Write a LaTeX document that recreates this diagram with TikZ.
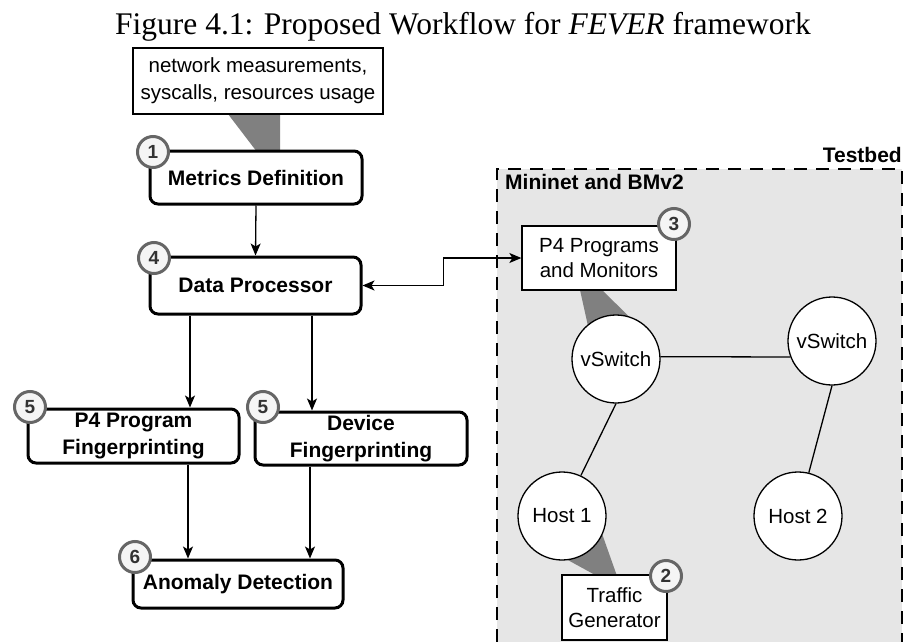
\documentclass[tikz,border=0pt]{standalone}
\usepackage{fontspec}
\setmainfont{Liberation Sans}
\newfontfamily\titlefont{Liberation Serif}
\usetikzlibrary{arrows.meta,calc}
\definecolor{wedge}{HTML}{808080}
\definecolor{badgeline}{HTML}{666666}
\definecolor{badgefill}{HTML}{F5F5F5}
\definecolor{badgetext}{HTML}{333333}
\definecolor{bedfill}{HTML}{E6E6E6}
\tikzset{
  stepbox/.style={draw=black, line width=3pt, rounded corners=8pt, fill=white, align=center,
    inner sep=0pt, font=\fontsize{21}{27}\selectfont\bfseries},
  plainbox/.style={draw=black, line width=1.3pt, fill=white, align=center, inner sep=0pt,
    font=\fontsize{20.5}{25}\selectfont},
  netnode/.style={draw=black, line width=1.3pt, fill=white, circle, inner sep=0pt,
    minimum size=88pt, font=\fontsize{20.5}{25}\selectfont},
  badge/.style={draw=badgeline, line width=3pt, fill=badgefill, circle, inner sep=0pt,
    minimum size=31pt, text=badgetext, font=\fontsize{19}{20}\selectfont\bfseries},
  flow/.style={line width=1.3pt, -{Stealth[length=12pt,width=10pt,inset=3pt]}},
  link/.style={line width=1.3pt},
  callout/.style={fill=wedge, draw=none},
}
\begin{document}
\begin{tikzpicture}[x=1pt,y=-1pt]
\useasboundingbox (0,0) rectangle (905,642);
% title
\node[font=\titlefont\fontsize{31.5}{34}\selectfont, anchor=base, inner sep=0pt] (title) at (463,35)
  {Figure 4.1: Proposed Workflow for \textit{FEVER} framework};
% testbed container
\fill[bedfill] (497,169) rectangle (902,642);
\draw[line width=1.5pt, dash pattern=on 13pt off 9pt] (497,642) -- (497,169) -- (902,169) -- (902,642);
\node[anchor=south east, inner sep=0pt, font=\fontsize{21}{24}\selectfont\bfseries] (tblabel) at (902,163) {Testbed};
\node[anchor=north west, inner sep=0pt, font=\fontsize{21}{24}\selectfont\bfseries] (mnlabel) at (505,174) {Mininet and BMv2};
% callout wedges
\fill[callout] (228,114) -- (280,114) -- (280,152) -- (257,152) -- cycle;
\fill[callout] (580,290) -- (602,290) -- (657,344) -- (592,344) -- cycle;
\fill[callout] (597,576) -- (617,576) -- (600,528) -- (555,553) -- cycle;
% left workflow
\node[plainbox, minimum width=250pt, minimum height=66pt, font=\fontsize{20.5}{27}\selectfont] (info) at (258,81)
  {network measurements,\\syscalls, resources usage};
\node[stepbox, minimum width=212pt, minimum height=53pt] (md) at (256,177.5) {Metrics Definition};
\node[stepbox, minimum width=211pt, minimum height=57pt] (dp) at (255.5,285.5) {Data Processor};
\node[stepbox, minimum width=211pt, minimum height=54pt] (p4fp) at (133.5,436) {P4 Program\\Fingerprinting};
\node[stepbox, minimum width=212pt, minimum height=53pt] (devfp) at (361,438.5) {Device\\Fingerprinting};
\node[stepbox, minimum width=210pt, minimum height=48pt] (ad) at (238,584) {Anomaly Detection};
% testbed contents
\node[plainbox, minimum width=154pt, minimum height=64pt] (p4) at (599,258) {P4 Programs\\and Monitors};
\node[netnode] (vs1) at (616,359) {vSwitch};
\node[netnode] (vs2) at (832,341) {vSwitch};
\node[netnode] (h1) at (562,516) {Host 1};
\node[netnode] (h2) at (798,516) {Host 2};
\node[plainbox, minimum width=105pt, minimum height=65pt] (tg) at (614.5,607.5) {Traffic\\Generator};
% links
\draw[link] (vs1.3) -- (vs2.201);
\draw[link] (vs1.270) -- (h1.65);
\draw[link] (vs2.270) -- (h2.76);
% flow arrows
\draw[flow] (md.south) -- (dp.north);
\draw[flow] (dp.south -| 190,0) -- (p4fp.north -| 190,0);
\draw[flow] (dp.south -| 312,0) -- (devfp.north -| 312,0);
\draw[flow] (p4fp.south -| 188,0) -- (ad.north -| 188,0);
\draw[flow] (devfp.south -| 310,0) -- (ad.north -| 310,0);
\draw[line width=1.3pt, {Stealth[length=12pt,width=10pt,inset=3pt]}-{Stealth[length=12pt,width=10pt,inset=3pt]}]
  (dp.east) -- ++(81,0) |- (p4.west);
% badges
\node[badge] (b1) at (153,152) {1};
\node[badge] (b4) at (154,258) {4};
\node[badge] (b5a) at (30,407) {5};
\node[badge] (b5b) at (263,407) {5};
\node[badge] (b6) at (135,557) {6};
\node[badge] (b3) at (674,224) {3};
\node[badge] (b2) at (666,576) {2};
\end{tikzpicture}
\end{document}
